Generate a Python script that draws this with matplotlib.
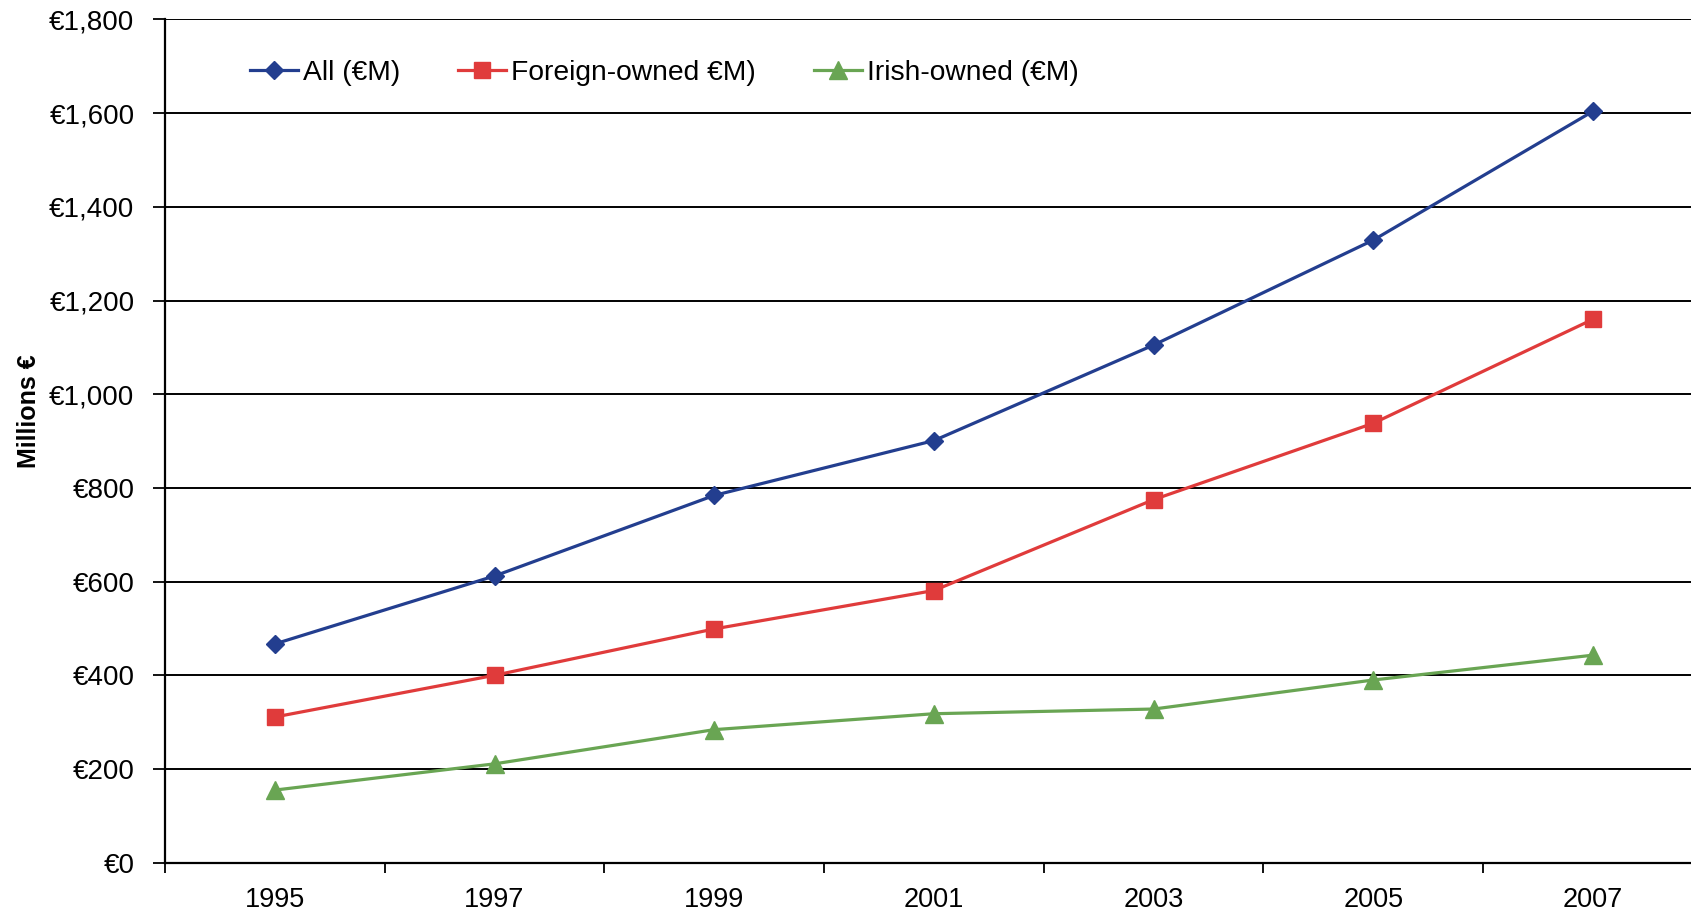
import matplotlib
matplotlib.use("Agg")
import matplotlib.pyplot as plt
from matplotlib.ticker import FuncFormatter, FixedLocator

years = ["1995", "1997", "1999", "2001", "2003", "2005", "2007"]
all_total = [467, 612, 784, 901, 1105, 1329, 1604]
foreign_owned = [311, 400, 499, 581, 775, 938, 1160]
irish_owned = [155, 211, 284, 318, 328, 390, 443]

series_labels = ["All (€M)", "Foreign-owned €M)", "Irish-owned (€M)"]
y_ticks = [0, 200, 400, 600, 800, 1000, 1200, 1400, 1600, 1800]

plt.rcParams["font.family"] = ["Liberation Sans", "DejaVu Sans"]

W, H = 1691, 913
fig = plt.figure(figsize=(W / 100, H / 100), dpi=100)
# plot area: left spine at x=165 px, bottom at y=862.7 px, 7 category slots of ~219.7 px
ax = fig.add_axes([165 / W, (H - 862.7) / H, 7 * 219.7 / W, 843.3 / H])

x = list(range(len(years)))
ax.plot(x, all_total, color="#233E8F", lw=2.3, marker="D", ms=8.8,
        label=series_labels[0], zorder=4)
ax.plot(x, foreign_owned, color="#E03B3B", lw=2.3, marker="s", ms=12,
        label=series_labels[1], zorder=4)
ax.plot(x, irish_owned, color="#69A553", lw=2.3, marker="^", ms=12.5,
        label=series_labels[2], zorder=4)

ax.set_xlim(-0.5, len(years) - 0.5)
ax.set_ylim(0, 1800)

# category boundaries carry the tick marks, labels sit at category centres
ax.xaxis.set_major_locator(FixedLocator([i - 0.5 for i in range(len(years) + 1)]))
ax.xaxis.set_major_formatter(FuncFormatter(lambda v, p: ""))
ax.xaxis.set_minor_locator(FixedLocator(x))
ax.set_xticklabels(years, minor=True)
ax.tick_params(axis="x", which="major", direction="out", length=7, width=1.3, color="black")
ax.tick_params(axis="x", which="minor", length=0, pad=17.5, labelsize=19.5)

ax.set_yticks(y_ticks)
ax.yaxis.set_major_formatter(FuncFormatter(lambda v, p: "€{:,.0f}".format(v)))
ax.tick_params(axis="y", direction="out", length=9, width=1.3, color="black",
               pad=13, labelsize=20)

ax.grid(axis="y", color="black", lw=1.4, zorder=1)
for s in ["top", "right"]:
    ax.spines[s].set_visible(False)
for s in ["left", "bottom"]:
    ax.spines[s].set_color("black")
    ax.spines[s].set_linewidth(1.6)
    ax.spines[s].set_zorder(3)

fig.text(29 / W, 1 - 411 / H, "Millions €", rotation=90, ha="center", va="center",
         fontsize=18, fontweight="bold")

ax.legend(loc="center left", bbox_to_anchor=(250 / W, 1 - 73 / H),
          bbox_transform=fig.transFigure, ncol=3, frameon=False,
          fontsize=20.3, borderpad=0, borderaxespad=0, handlelength=1.7,
          handletextpad=0.18, columnspacing=2.05)

fig.savefig("out.png", dpi=100)
